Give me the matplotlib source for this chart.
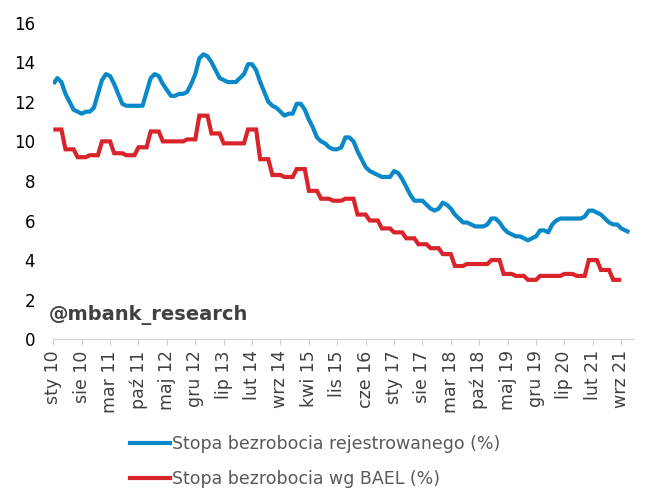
import numpy as np
import matplotlib
matplotlib.use('Agg')
import matplotlib.pyplot as plt
from matplotlib.lines import Line2D

# stopa bezrobocia rejestrowanego, miesięcznie, sty 2010 - lis 2021 (%)
registered = [
    12.9, 13.2, 13.0, 12.4, 12.0, 11.6, 11.5, 11.4, 11.5, 11.5, 11.7, 12.4,  # 2010
    13.1, 13.4, 13.3, 12.9, 12.4, 11.9, 11.8, 11.8, 11.8, 11.8, 11.8, 12.5,  # 2011
    13.2, 13.4, 13.3, 12.9, 12.6, 12.3, 12.3, 12.4, 12.4, 12.5, 12.9, 13.4,  # 2012
    14.2, 14.4, 14.3, 14.0, 13.6, 13.2, 13.1, 13.0, 13.0, 13.0, 13.2, 13.4,  # 2013
    13.9, 13.9, 13.6, 13.0, 12.5, 12.0, 11.8, 11.7, 11.5, 11.3, 11.4, 11.4,  # 2014
    11.9, 11.9, 11.6, 11.1, 10.7, 10.2, 10.0, 9.9, 9.7, 9.6, 9.6, 9.7,       # 2015
    10.2, 10.2, 10.0, 9.5, 9.1, 8.7, 8.5, 8.4, 8.3, 8.2, 8.2, 8.2,           # 2016
    8.5, 8.4, 8.1, 7.7, 7.3, 7.0, 7.0, 7.0, 6.8, 6.6, 6.5, 6.6,              # 2017
    6.9, 6.8, 6.6, 6.3, 6.1, 5.9, 5.9, 5.8, 5.7, 5.7, 5.7, 5.8,              # 2018
    6.1, 6.1, 5.9, 5.6, 5.4, 5.3, 5.2, 5.2, 5.1, 5.0, 5.1, 5.2,              # 2019
    5.5, 5.5, 5.4, 5.8, 6.0, 6.1, 6.1, 6.1, 6.1, 6.1, 6.1, 6.2,              # 2020
    6.5, 6.5, 6.4, 6.3, 6.1, 5.9, 5.8, 5.8, 5.6, 5.5, 5.4,                   # 2021
]

# stopa bezrobocia wg BAEL, kwartalnie, I kw. 2010 - III kw. 2021 (%)
bael_quarterly = [
    10.6, 9.6, 9.2, 9.3,
    10.0, 9.4, 9.3, 9.7,
    10.5, 10.0, 10.0, 10.1,
    11.3, 10.4, 9.9, 9.9,
    10.6, 9.1, 8.3, 8.2,
    8.6, 7.5, 7.1, 7.0,
    7.1, 6.3, 6.0, 5.6,
    5.4, 5.1, 4.8, 4.6,
    4.3, 3.7, 3.8, 3.8,
    4.0, 3.3, 3.2, 3.0,
    3.2, 3.2, 3.3, 3.2,
    4.0, 3.5, 3.0,
]

tick_labels = ['sty 10', 'sie 10', 'mar 11', 'paź 11', 'maj 12', 'gru 12', 'lip 13',
               'lut 14', 'wrz 14', 'kwi 15', 'lis 15', 'cze 16', 'sty 17', 'sie 17',
               'mar 18', 'paź 18', 'maj 19', 'gru 19', 'lip 20', 'lut 21', 'wrz 21']
n_months = 144  # sty 2010 - gru 2021

blue = '#0a88c8'
red = '#d8242a'

# kwartały rozpisane na miesiące (ta sama wartość przez 3 miesiące)
bael = np.repeat(bael_quarterly, 3)

fig = plt.figure(figsize=(6.54, 5.04), dpi=100)
ax = fig.add_axes([0.0815, 0.327, 0.887, 0.628])

ax.plot(np.arange(len(registered)), registered, color=blue, lw=3.0,
        solid_joinstyle='round', solid_capstyle='butt')
ax.plot(np.arange(len(bael)), bael, color=red, lw=3.0,
        solid_joinstyle='miter', solid_capstyle='butt')

ax.set_xlim(0, n_months - 1)
ax.set_ylim(0, 16)
ax.set_yticks(range(0, 17, 2))
ax.set_xticks(np.arange(0, 7 * len(tick_labels), 7))
ax.set_xticklabels(tick_labels, rotation=90, fontsize=12.5, color='#404040')

for s in ['top', 'right', 'left']:
    ax.spines[s].set_visible(False)
ax.spines['bottom'].set_color('#d0d0d0')
ax.spines['bottom'].set_linewidth(0.8)
ax.tick_params(axis='x', length=4, color='#d0d0d0', pad=4)
ax.tick_params(axis='y', length=0, labelsize=12, pad=13, labelcolor='black')

fig.text(49 / 654, 1 - 315 / 504, '@mbank_research', fontsize=14,
         fontweight='bold', color='#404040', va='center', ha='left')

handles = [Line2D([], [], color=blue, lw=3.0),
           Line2D([], [], color=red, lw=3.0)]
fig.legend(handles, ['Stopa bezrobocia rejestrowanego (%)', 'Stopa bezrobocia wg BAEL (%)'],
           loc='center', bbox_to_anchor=(0.4817, 0.0843), frameon=False,
           fontsize=12.5, labelcolor='#595959', handlelength=2.3,
           handletextpad=0.15, labelspacing=0.95, borderpad=0)

fig.savefig('out.png', dpi=100)
